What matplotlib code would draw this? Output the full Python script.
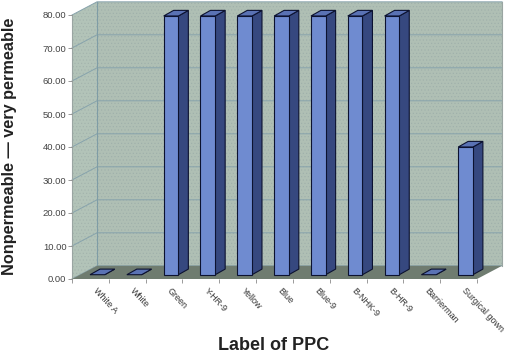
import matplotlib
matplotlib.use('Agg')
import matplotlib.pyplot as plt
from matplotlib.transforms import ScaledTranslation
import numpy as np

plt.rcParams['font.family'] = ['Liberation Sans', 'DejaVu Sans']
plt.rcParams['hatch.linewidth'] = 0.4

labels = ['White A', 'White', 'Green', 'Y-HR-9', 'Yellow', 'Blue', 'Blue-9',
          'B-NHK-9', 'B-HR-9', 'Barrierman', 'Surgical gown']
values = [0, 0, 78.4, 78.4, 78.4, 78.4, 78.4, 78.4, 78.4, 0, 38.7]
yticks = [0, 10, 20, 30, 40, 50, 60, 70, 80]

W, H = 506, 354
# depth of the 3d box and of one bar, in data units
box_dx, box_dy = 0.68, 4.0
bar_dx, bar_dy = 0.27, 1.7
bar_w = 0.40
bar_base = 1.3

fig = plt.figure(figsize=(W / 100, H / 100), dpi=100)
ax = fig.add_axes([72 / W, 1 - 279 / H, 405 / W, 264 / H])
ax.set_xlim(0, 11)
ax.set_ylim(0, 80)
for s in ax.spines.values():
    s.set_visible(False)


def quad(xs, ys, fc, ec='none', lw=0, z=1, hatch=None, hc=None):
    ax.fill(xs, ys, facecolor=fc, edgecolor=ec, lw=lw, zorder=z, clip_on=False)
    if hatch:
        ax.fill(xs, ys, facecolor='none', edgecolor=hc, lw=0, hatch=hatch, zorder=z, clip_on=False)


# walls and floor
quad([0, box_dx, box_dx, 0], [0, box_dy, 80 + box_dy, 80], '#b2c3b8', z=1, hatch='.....', hc='#a2b2ac')
quad([box_dx, 11 + box_dx, 11 + box_dx, box_dx], [box_dy, box_dy, 80 + box_dy, 80 + box_dy],
     '#afbfb4', z=1, hatch='.....', hc='#9eafaa')
quad([0, 11, 11 + box_dx, box_dx], [0, 0, box_dy, box_dy], '#6f7c70', z=2)

# gridlines on both walls
for t in yticks:
    ax.plot([0, box_dx, 11 + box_dx], [t, t + box_dy, t + box_dy], color='#87a3ac', lw=0.7,
            zorder=1.5, clip_on=False)
ax.plot([box_dx, box_dx], [box_dy, 80 + box_dy], color='#7f9da6', lw=0.8, zorder=1.5, clip_on=False)
ax.plot([0, 0], [0, 80], color='#9aa5a2', lw=0.8, zorder=1.5, clip_on=False)
ax.plot([11 + box_dx, 11 + box_dx], [box_dy, 80 + box_dy], color='#9aa5a2', lw=0.8, zorder=1.5, clip_on=False)

# bars
for c, v in zip(np.arange(len(labels)) + 0.69, values):
    x0 = c - bar_w / 2
    x1 = c + bar_w / 2
    top = bar_base + v
    quad([x1, x1 + bar_dx, x1 + bar_dx, x1], [bar_base, bar_base + bar_dy, top + bar_dy, top],
         '#36487f', ec='#0c1230', lw=0.8, z=3)
    quad([x0, x1, x1 + bar_dx, x0 + bar_dx], [top, top, top + bar_dy, top + bar_dy],
         '#5a72b4', ec='#0c1230', lw=0.8, z=3)
    if v > 0:
        ax.bar(c, v, bar_w, bottom=bar_base, color='#6f8bd0', edgecolor='#0c1230', lw=0.8,
               zorder=4, clip_on=False)

# axes ticks
ax.set_yticks(yticks)
ax.set_yticklabels(['%.2f' % t for t in yticks], fontsize=6.8, color='#444444')
ax.tick_params(axis='y', length=3, width=0.6, color='#8a8a8a', pad=1)
ax.set_xticks(np.arange(12))
ax.set_xticklabels([])
ax.tick_params(axis='x', length=3, width=0.6, color='#8a8a8a')
ax.set_xticks(np.arange(11) + 0.5, minor=True)
ax.set_xticklabels(labels, minor=True, rotation=-47, ha='left', va='top',
                   rotation_mode='anchor', fontsize=6.5, color='#333333')
ax.tick_params(axis='x', which='minor', length=0, pad=5)
shift = ScaledTranslation(8 / 100, 0, fig.dpi_scale_trans)
for t in ax.get_xticklabels(minor=True):
    t.set_transform(t.get_transform() + shift)

fig.text(274 / W, 1 - 345 / H, 'Label of PPC', fontsize=13, fontweight='bold', color='#222222',
         ha='center', va='center')
fig.text(10 / W, 1 - 146 / H, 'Nonpermeable \u2014 very permeable', fontsize=11.7, fontweight='bold',
         color='#222222', rotation=90, ha='center', va='center')

fig.savefig('out.png', dpi=100, facecolor='white')
